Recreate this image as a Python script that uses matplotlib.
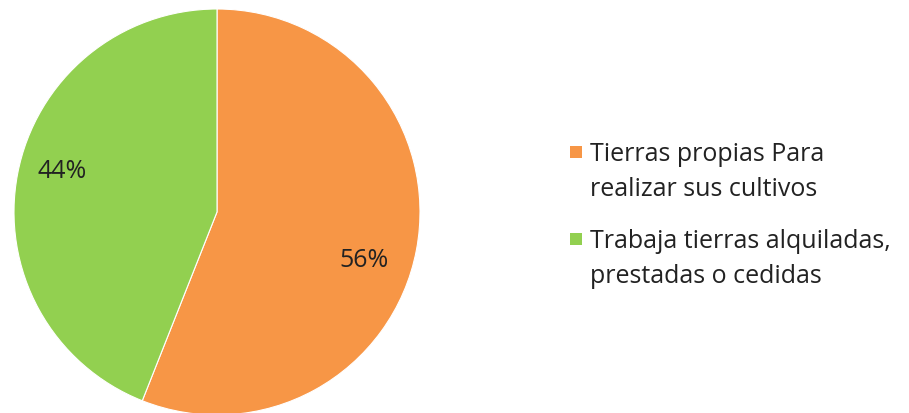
import numpy as np
import matplotlib.pyplot as plt
from matplotlib.patches import Rectangle

# Data
labels = ['Tierras propias Para\nrealizar sus cultivos',
          'Trabaja tierras alquiladas,\nprestadas o cedidas']
shares = [56, 44]
colors = ['#F79646', '#92D050']

plt.rcParams['font.family'] = ['Open Sans', 'DejaVu Sans']
TXT = '#222222'

fig = plt.figure(figsize=(9.09, 4.14), dpi=100)
# pie area in pixels: left 14, top 10, diameter 406
ax = fig.add_axes([14 / 909, -2 / 414, 406 / 909, 406 / 414])

wedges, texts, autotexts = ax.pie(
    shares, colors=colors, startangle=90, counterclock=False,
    autopct='%d%%', pctdistance=0.78, radius=1.0,
    wedgeprops=dict(linewidth=0.8, edgecolor='white'),
    textprops=dict(fontsize=18, color=TXT))
ax.set_xlim(-1, 1)
ax.set_ylim(-1, 1)
ax.set_aspect('equal')

# percentage labels placed like the original (best fit)
label_pos = [(-17.8, 0.76), (165.0, 0.79)]
for t, (ang, r) in zip(autotexts, label_pos):
    a = np.deg2rad(ang)
    t.set_position((r * np.cos(a), r * np.sin(a)))

# legend drawn by hand: square beside the first line of each entry
W, H = 909, 414
first_line_y = [153, 240]
for lab, col, y in zip(labels, colors, first_line_y):
    fig.patches.append(Rectangle((570 / W, 1 - (y + 6) / H), 12 / W, 12 / H,
                                 transform=fig.transFigure, facecolor=col,
                                 edgecolor='none'))
    fig.text(590 / W, 1 - (y + 19) / H, lab, fontsize=18, color=TXT,
             va='center', ha='left', linespacing=1.5)

fig.savefig('out.png', dpi=100)
